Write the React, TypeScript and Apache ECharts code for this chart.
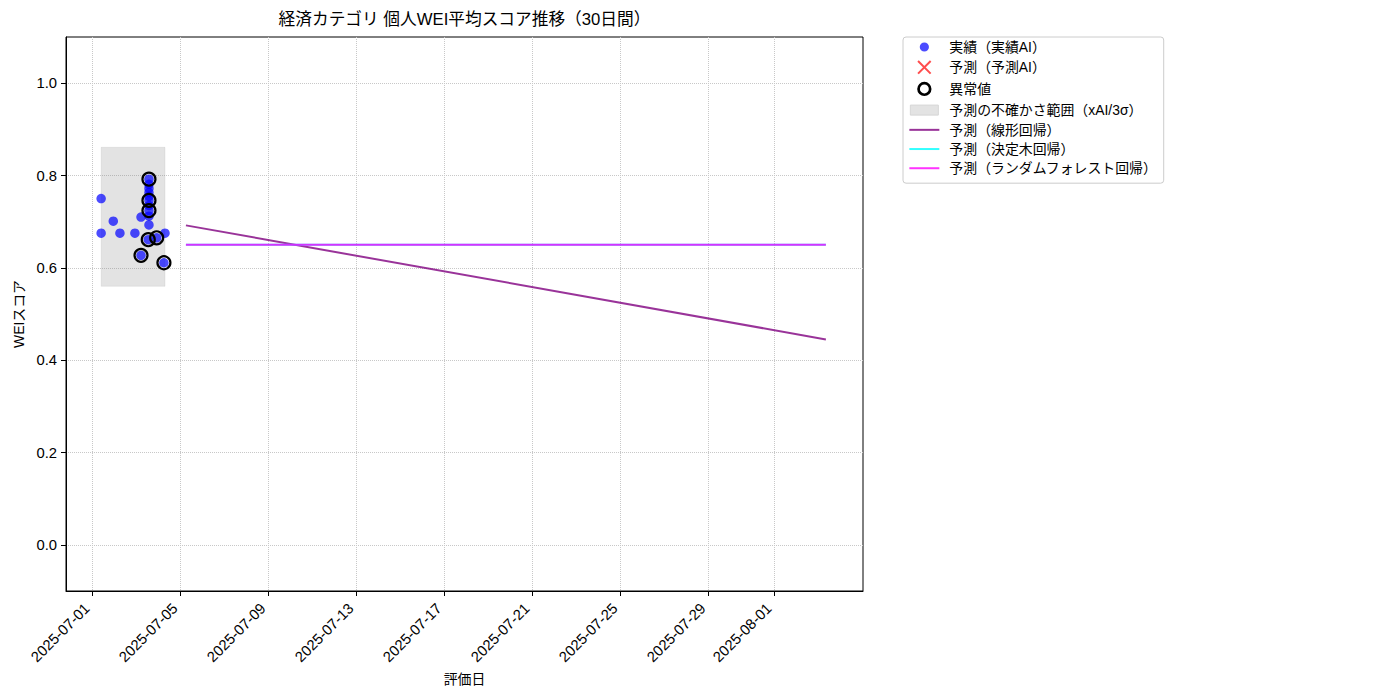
import React, { useEffect, useRef } from 'react';
import * as echarts from 'echarts';

const FONT = '"Liberation Sans", "Noto Sans CJK JP", sans-serif';

const TITLE = '経済カテゴリ 個人WEI平均スコア推移（30日間）';
const X_NAME = '評価日';
const Y_NAME = 'WEIスコア';

const X_TICKS = [
  '2025-07-01', '2025-07-05', '2025-07-09', '2025-07-13', '2025-07-17',
  '2025-07-21', '2025-07-25', '2025-07-29', '2025-08-01',
];
const Y_TICKS = [0, 0.2, 0.4, 0.6, 0.8, 1.0];
const X_RANGE = ['2025-06-29 19:40', '2025-08-05 01:10'];
const Y_RANGE = [-0.1, 1.1];

const ACTUAL_DATES = [
  '2025-07-01 10:00', '2025-07-01 10:00', '2025-07-01 23:15', '2025-07-02 06:30',
  '2025-07-02 22:50', '2025-07-03 05:30', '2025-07-03 05:30', '2025-07-03 14:10',
  '2025-07-03 14:10', '2025-07-03 14:10', '2025-07-03 14:10', '2025-07-03 14:10',
  '2025-07-03 14:10', '2025-07-03 14:10', '2025-07-03 14:10', '2025-07-03 14:10',
  '2025-07-03 14:10', '2025-07-03 13:25', '2025-07-03 22:35', '2025-07-04 06:30',
  '2025-07-04 07:40',
];
const ACTUAL_VALUES = [
  0.750, 0.675, 0.701, 0.675,
  0.675, 0.710, 0.627, 0.792,
  0.781, 0.772, 0.763, 0.755,
  0.746, 0.735, 0.724, 0.712,
  0.693, 0.661, 0.665, 0.611,
  0.675,
];

const ANOMALY_DATES = [
  '2025-07-03 05:30', '2025-07-03 14:10', '2025-07-03 14:10', '2025-07-03 14:10',
  '2025-07-03 13:25', '2025-07-03 22:35', '2025-07-04 06:30',
];
const ANOMALY_VALUES = [0.627, 0.792, 0.746, 0.724, 0.661, 0.665, 0.611];

const PRED_AI_DATES: string[] = [];
const PRED_AI_VALUES: number[] = [];

const BAND_DATES = ['2025-07-01 10:00', '2025-07-04 07:40'];
const BAND_VALUES = [0.56, 0.861];

const FORECAST_DATES = ['2025-07-05 06:30', '2025-08-03 08:40'];
const LINEAR_VALUES = [0.692, 0.445];
const TREE_VALUES = [0.65, 0.65];
const FOREST_VALUES = [0.65, 0.65];

const NAMES = {
  actual: '実績（実績AI）',
  predAI: '予測（予測AI）',
  anomaly: '異常値',
  band: '予測の不確かさ範囲（xAI/3σ）',
  linear: '予測（線形回帰）',
  tree: '予測（決定木回帰）',
  forest: '予測（ランダムフォレスト回帰）',
};

const ts = (s: string) => {
  const [d, t = '00:00'] = s.split(' ');
  const [Y, M, D] = d.split('-').map(Number);
  const [h, m] = t.split(':').map(Number);
  return Date.UTC(Y, M - 1, D, h, m);
};
const pad = (n: number) => String(n).padStart(2, '0');
const fmtDate = (v: number) => {
  const d = new Date(v);
  return `${d.getUTCFullYear()}-${pad(d.getUTCMonth() + 1)}-${pad(d.getUTCDate())}`;
};
const zip = (xs: string[], ys: number[]) => xs.map((x, i) => [ts(x), ys[i]]);

// legend icons (30 x 14 box, anchored by the two leading moves)
const ICON_DOT = 'path://M0,0M30,14M19.6,7A4.6,4.6 0 1 1 10.4,7A4.6,4.6 0 1 1 19.6,7Z';
const ICON_X = 'path://M0,0M30,14M8.7,0.7L21.3,13.3M21.3,0.7L8.7,13.3';
const ICON_RING = 'path://M0,0M30,14M20.8,7A5.8,5.8 0 1 1 9.2,7A5.8,5.8 0 1 1 20.8,7Z';
const ICON_RECT = 'path://M0,0M30,14M1,2L29,2L29,12L1,12Z';

export default function App() {
  const ref = useRef<HTMLDivElement>(null);
  useEffect(() => {
    if (!ref.current) return;
    const chart = echarts.init(ref.current, undefined, { renderer: 'svg' });
    const xTickVals = X_TICKS.map((s) => ts(s));
    const hideSymbol = { opacity: 0, color: 'rgba(0,0,0,0)', borderWidth: 0 };
    const option: any = {
      animation: false,
      backgroundColor: '#ffffff',
      textStyle: { fontFamily: FONT },
      title: {
        text: TITLE,
        left: 464.5,
        top: 11,
        textAlign: 'center',
        padding: 0,
        textStyle: { fontSize: 16.7, fontWeight: 'normal', color: '#000', fontFamily: FONT },
      },
      grid: {
        left: 66,
        top: 37,
        width: 797,
        height: 554,
        show: true,
        borderColor: '#000',
        borderWidth: 1,
        backgroundColor: 'transparent',
        containLabel: false,
        outerBoundsMode: 'none',
      },
      legend: {
        orient: 'vertical',
        left: 903,
        top: 37,
        padding: [3, 6, 8, 5],
        itemWidth: 30,
        itemHeight: 14,
        itemGap: 5.3,
        selectedMode: false,
        borderColor: '#cccccc',
        borderWidth: 1,
        borderRadius: 3,
        backgroundColor: '#ffffff',
        textStyle: { fontSize: 13.9, color: '#000', fontFamily: FONT, padding: [0, 0, 0, 5] },
        data: [
          { name: NAMES.actual, icon: ICON_DOT, itemStyle: { color: 'rgba(0,0,255,0.7)', borderWidth: 0, opacity: 1 } },
          {
            name: NAMES.predAI,
            icon: ICON_X,
            itemStyle: { color: 'rgba(0,0,0,0)', borderColor: 'rgba(255,0,0,0.7)', borderWidth: 2, opacity: 1 },
          },
          {
            name: NAMES.anomaly,
            icon: ICON_RING,
            itemStyle: { color: 'rgba(0,0,0,0)', borderColor: '#000', borderWidth: 2.7, opacity: 1 },
          },
          {
            name: NAMES.band,
            icon: ICON_RECT,
            itemStyle: { color: '#e3e3e3', borderColor: '#d6d6d6', borderWidth: 1, opacity: 1 },
          },
          { name: NAMES.linear, itemStyle: hideSymbol },
          { name: NAMES.tree, itemStyle: hideSymbol },
          { name: NAMES.forest, itemStyle: hideSymbol },
        ],
      },
      xAxis: {
        type: 'value',
        min: ts(X_RANGE[0]),
        max: ts(X_RANGE[1]),
        name: X_NAME,
        nameLocation: 'middle',
        nameGap: 75,
        nameTextStyle: { fontSize: 13.9, color: '#000', fontFamily: FONT },
        axisLine: { show: true, onZero: false, lineStyle: { color: '#000', width: 1 } },
        axisTick: { show: true, length: 5, customValues: xTickVals, lineStyle: { color: '#000' } },
        axisLabel: {
          show: true,
          customValues: xTickVals,
          rotate: 45,
          margin: 10,
          padding: [0, 7, 0, 0],
          fontSize: 14.8,
          color: '#000',
          fontFamily: FONT,
          formatter: (v: number) => fmtDate(v),
        },
        splitLine: { show: true, lineStyle: { color: '#c8c8c8', type: 'dotted', width: 1 } },
      },
      yAxis: {
        type: 'value',
        min: Y_RANGE[0],
        max: Y_RANGE[1],
        name: Y_NAME,
        nameLocation: 'middle',
        nameGap: 40,
        nameTextStyle: { fontSize: 13.9, color: '#000', fontFamily: FONT },
        axisLine: { show: true, onZero: false, lineStyle: { color: '#000', width: 1 } },
        axisTick: { show: true, length: 5, customValues: Y_TICKS, lineStyle: { color: '#000' } },
        axisLabel: {
          show: true,
          customValues: Y_TICKS,
          margin: 9,
          fontSize: 14.8,
          color: '#000',
          fontFamily: FONT,
          formatter: (v: number) => v.toFixed(1),
        },
        splitLine: { show: true, lineStyle: { color: '#c8c8c8', type: 'dotted', width: 1 } },
      },
      series: [
        {
          name: NAMES.band,
          type: 'scatter',
          data: [],
          itemStyle: { color: '#e3e3e3' },
          z: 1,
          markArea: {
            silent: true,
            itemStyle: { color: 'rgba(128,128,128,0.22)', borderColor: 'rgba(128,128,128,0.12)', borderWidth: 1 },
            data: [[
              { coord: [ts(BAND_DATES[0]), BAND_VALUES[0]] },
              { coord: [ts(BAND_DATES[1]), BAND_VALUES[1]] },
            ]],
          },
        },
        {
          name: NAMES.actual,
          type: 'scatter',
          data: zip(ACTUAL_DATES, ACTUAL_VALUES),
          symbol: 'circle',
          symbolSize: 9.5,
          itemStyle: { color: 'rgba(0,0,255,0.7)', borderWidth: 0, opacity: 1 },
          z: 3,
        },
        {
          name: NAMES.predAI,
          type: 'scatter',
          data: zip(PRED_AI_DATES, PRED_AI_VALUES),
          symbol: 'path://M0,0L10,10M10,0L0,10',
          symbolSize: 10,
          itemStyle: { color: 'rgba(0,0,0,0)', borderColor: 'rgba(255,0,0,0.7)', borderWidth: 2, opacity: 1 },
          z: 3,
        },
        {
          name: NAMES.anomaly,
          type: 'scatter',
          data: zip(ANOMALY_DATES, ANOMALY_VALUES),
          symbol: 'circle',
          symbolSize: 13,
          itemStyle: { color: 'rgba(0,0,0,0)', borderColor: '#000', borderWidth: 2.2, opacity: 1 },
          z: 4,
        },
        {
          name: NAMES.linear,
          type: 'line',
          data: zip(FORECAST_DATES, LINEAR_VALUES),
          symbol: 'none',
          showSymbol: false,
          lineStyle: { color: 'rgba(128,0,128,0.8)', width: 2 },
          itemStyle: { color: 'rgba(128,0,128,0.8)' },
          z: 2,
        },
        {
          name: NAMES.tree,
          type: 'line',
          data: zip(FORECAST_DATES, TREE_VALUES),
          symbol: 'none',
          showSymbol: false,
          lineStyle: { color: 'rgba(0,255,255,0.8)', width: 2 },
          itemStyle: { color: 'rgba(0,255,255,0.8)' },
          z: 2,
        },
        {
          name: NAMES.forest,
          type: 'line',
          data: zip(FORECAST_DATES, FOREST_VALUES),
          symbol: 'none',
          showSymbol: false,
          lineStyle: { color: 'rgba(255,0,255,0.8)', width: 2 },
          itemStyle: { color: 'rgba(255,0,255,0.8)' },
          z: 2,
        },
      ],
    };
    chart.setOption(option);
    return () => chart.dispose();
  }, []);
  return (
    <div
      ref={ref}
      style={{ position: 'absolute', left: 0, top: 0, width: 1400, height: 700, background: '#fff' }}
    />
  );
}
